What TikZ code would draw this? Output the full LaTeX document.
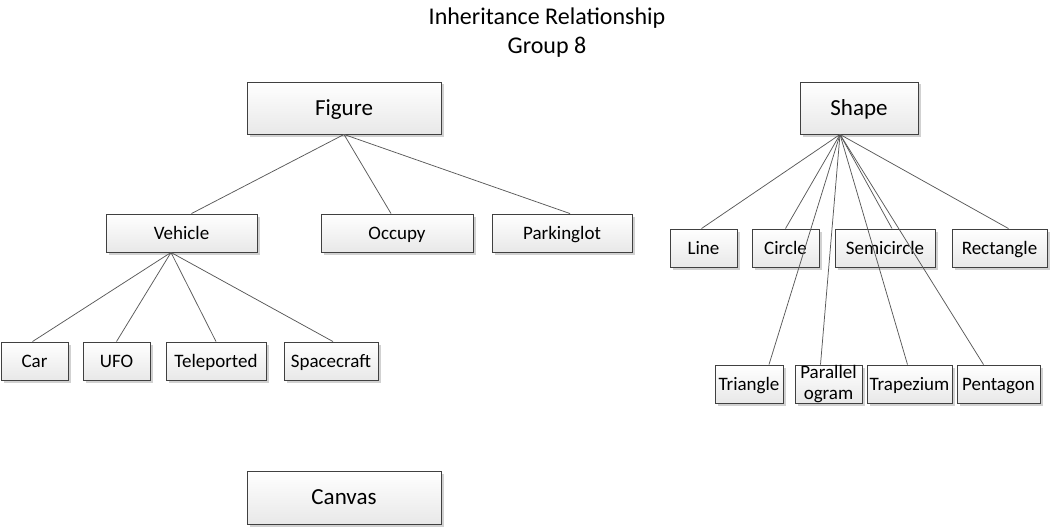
\documentclass[tikz,border=0pt]{standalone}
\usepackage{fontspec}
\setmainfont{Carlito}
\usetikzlibrary{shadows}
\definecolor{edge}{HTML}{404040}
\definecolor{conn}{HTML}{595959}
\tikzset{
  box/.style={draw=edge, line width=0.9pt, top color=white, bottom color=black!9,
    drop shadow={shadow xshift=2.5pt, shadow yshift=-2.5pt, fill=black!18, opacity=1},
    inner sep=0pt, anchor=center},
  bigbox/.style={box, font=\fontsize{23}{27}\selectfont, text height=14.8pt, text depth=0pt},
  smallbox/.style={box, minimum height=38pt, font=\fontsize{19}{19}\selectfont},
  onel/.style={text height=12.3pt, text depth=0pt},
  conn/.style={draw=conn, line width=0.75pt}
}
\begin{document}
\begin{tikzpicture}[x=1pt,y=-1pt]
\useasboundingbox (0,0) rectangle (1050,527);
\node[font=\fontsize{24}{29}\selectfont, align=center] (title) at (547,33) {Inheritance Relationship\\Group 8};

\node[bigbox, minimum width=194pt, minimum height=52pt] (figure) at (344,108) {Figure};
\node[bigbox, minimum width=118pt, minimum height=52pt] (shape) at (859,108) {Shape};
\node[bigbox, minimum width=194pt, minimum height=53pt] (canvas) at (344,497.5) {Canvas};

\node[smallbox, onel, minimum width=151pt] (vehicle) at (181.5,233) {Vehicle};
\node[smallbox, onel, minimum width=152pt] (occupy) at (397,233) {Occupy};
\node[smallbox, onel, minimum width=140pt] (parkinglot) at (562,233) {Parkinglot};

\node[smallbox, onel, minimum width=67pt] (car) at (34.5,361) {Car};
\node[smallbox, onel, minimum width=67pt] (ufo) at (116.5,361) {UFO};
\node[smallbox, onel, minimum width=100pt] (teleported) at (216,361) {Teleported};
\node[smallbox, onel, minimum width=94pt] (spacecraft) at (331,361) {Spacecraft};

\node[smallbox, onel, minimum width=67pt] (line) at (703.5,248) {Line};
\node[smallbox, onel, minimum width=67pt] (circle) at (785.5,248) {Circle};
\node[smallbox, onel, minimum width=100pt] (semicircle) at (885,248) {Semicircle};
\node[smallbox, onel, minimum width=95pt] (rectangle) at (999.5,248) {Rectangle};

\node[smallbox, onel, minimum width=68pt] (triangle) at (749,384) {Triangle};
\node[smallbox, minimum width=67pt, align=center, font=\fontsize{19}{21}\selectfont] (parallelogram) at (828.5,384) {Parallel\\ogram};
\node[smallbox, onel, minimum width=85pt] (trapezium) at (909.5,384) {Trapezium};
\node[smallbox, onel, minimum width=83pt] (pentagon) at (998.5,384) {Pentagon};

\coordinate (shp) at ([xshift=-19pt]shape.south);
\coordinate (veh) at ([xshift=-10.5pt]vehicle.south);

\draw[conn] (figure.south) -- ([xshift=10pt]vehicle.north);
\draw[conn] (figure.south) -- ([xshift=-6pt]occupy.north);
\draw[conn] (figure.south) -- ([xshift=8pt]parkinglot.north);

\draw[conn] (veh) -- ([xshift=-2pt]car.north);
\draw[conn] (veh) -- (ufo.north);
\draw[conn] (veh) -- (teleported.north);
\draw[conn] (veh) -- ([xshift=2pt]spacecraft.north);

\draw[conn] (shp) -- ([xshift=-2pt]line.north);
\draw[conn] (shp) -- (circle.north);
\draw[conn] (shp) -- ([xshift=7pt]semicircle.north);
\draw[conn] (shp) -- ([xshift=9pt]rectangle.north);
\draw[conn] (shp) -- ([xshift=20pt]triangle.north);
\draw[conn] (shp) -- ([xshift=-8pt]parallelogram.north);
\draw[conn] (shp) -- ([xshift=-2pt]trapezium.north);
\draw[conn] (shp) -- ([xshift=-15pt]pentagon.north);
\end{tikzpicture}
\end{document}
